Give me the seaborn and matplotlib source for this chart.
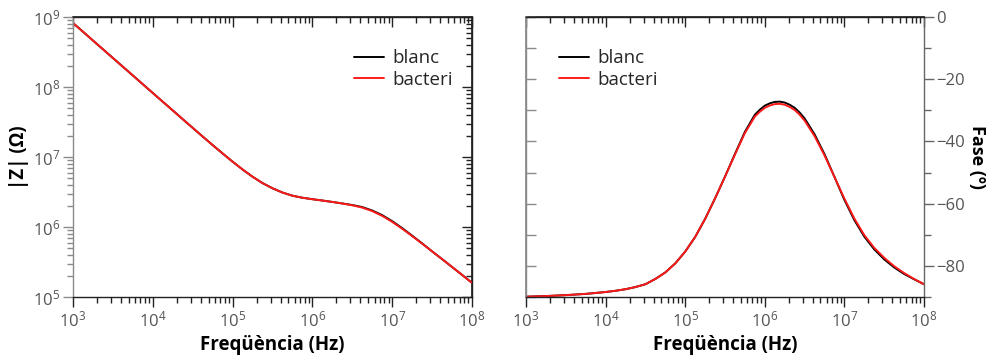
import matplotlib
matplotlib.use("Agg")
import matplotlib.pyplot as plt
import seaborn as sns
from matplotlib.ticker import LogLocator, MultipleLocator, NullFormatter

# ---------------- data ----------------
freq = [1.0e3, 1.334e3, 1.778e3, 2.371e3, 3.162e3, 4.217e3, 5.623e3, 7.499e3,
        1.0e4, 1.334e4, 1.778e4, 2.371e4, 3.162e4, 4.217e4, 5.623e4, 7.499e4,
        1.0e5, 1.334e5, 1.778e5, 2.371e5, 3.162e5, 4.217e5, 5.623e5, 7.499e5,
        1.0e6, 1.334e6, 1.778e6, 2.371e6, 3.162e6, 4.217e6, 5.623e6, 7.499e6,
        1.0e7, 1.334e7, 1.778e7, 2.371e7, 3.162e7, 4.217e7, 5.623e7, 7.499e7,
        1.0e8]

z_blanc = [8.20e8, 6.15e8, 4.613e8, 3.459e8, 2.594e8, 1.945e8, 1.459e8, 1.094e8,
           8.20e7, 6.15e7, 4.624e7, 3.467e7, 2.606e7, 1.959e7, 1.479e7, 1.122e7,
           8.570e6, 6.622e6, 5.224e6, 4.236e6, 3.573e6, 3.105e6, 2.799e6, 2.618e6,
           2.495e6, 2.388e6, 2.280e6, 2.168e6, 2.060e6, 1.925e6, 1.720e6, 1.475e6,
           1.210e6, 9.64e5, 7.52e5, 5.83e5, 4.487e5, 3.475e5, 2.685e5, 2.070e5,
           1.592e5]
z_bacteri = [8.20e8, 6.15e8, 4.613e8, 3.459e8, 2.594e8, 1.945e8, 1.459e8, 1.094e8,
             8.20e7, 6.15e7, 4.624e7, 3.467e7, 2.606e7, 1.959e7, 1.479e7, 1.122e7,
             8.570e6, 6.622e6, 5.224e6, 4.236e6, 3.573e6, 3.105e6, 2.799e6, 2.618e6,
             2.495e6, 2.388e6, 2.280e6, 2.168e6, 2.042e6, 1.892e6, 1.687e6, 1.442e6,
             1.183e6, 9.441e5, 7.413e5, 5.781e5, 4.487e5, 3.475e5, 2.685e5, 2.070e5,
             1.592e5]

freq_ph = [1.0e3, 1.334e3, 1.778e3, 2.371e3, 3.162e3, 4.217e3, 5.623e3, 7.499e3,
           1.0e4, 1.334e4, 1.778e4, 2.371e4, 3.162e4, 4.217e4, 5.623e4, 7.499e4,
           1.0e5, 1.334e5, 1.778e5, 2.371e5, 3.162e5, 4.217e5, 5.623e5, 7.499e5,
           8.660e5, 1.0e6, 1.155e6, 1.334e6, 1.540e6, 1.778e6, 2.054e6, 2.371e6,
           2.738e6, 3.162e6, 4.217e6, 5.623e6, 7.499e6,
           1.0e7, 1.334e7, 1.778e7, 2.371e7, 3.162e7, 4.217e7, 5.623e7, 7.499e7,
           1.0e8]
ph_blanc = [-89.9, -89.8, -89.7, -89.55, -89.4, -89.2, -89.0, -88.7,
            -88.4, -88.0, -87.5, -86.8, -85.9, -84.2, -82.1, -79.2,
            -75.4, -70.7, -64.9, -58.3, -51.3, -44.0, -36.9, -31.4,
            -29.8, -28.5, -27.75, -27.3, -27.2, -27.5, -28.2, -29.2,
            -30.7, -32.6, -37.7, -44.1, -51.4,
            -58.8, -65.3, -70.6, -74.7, -77.9, -80.5, -82.6, -84.3,
            -85.9]
ph_bacteri = [-89.9, -89.8, -89.7, -89.55, -89.4, -89.2, -89.0, -88.7,
              -88.4, -88.0, -87.5, -86.8, -85.9, -84.2, -82.1, -79.2,
              -75.4, -70.7, -64.9, -58.3, -51.3, -44.2, -37.3, -32.0,
              -30.45, -29.2, -28.45, -28.0, -27.9, -28.2, -28.9, -29.9,
              -31.4, -33.3, -38.3, -44.5, -51.4,
              -58.4, -64.8, -70.1, -74.2, -77.4, -80.1, -82.3, -84.2,
              -85.9]

series_names = ["blanc", "bacteri"]
series_colors = ["black", "#ff1a1a"]
x_label = "Freqüència (Hz)"
y1_label = "|Z| (Ω)"
y2_label = "Fase (º)"

# ---------------- style ----------------
sns.set_theme(style="white")
plt.rcParams["font.family"] = ["Open Sans", "DejaVu Sans"]
plt.rcParams["mathtext.default"] = "regular"
plt.rcParams["axes.unicode_minus"] = True

TICK_COL = "#555555"
DARK = "#222222"
GRAY = "#8a8a8a"
FS = 12

fig = plt.figure(figsize=(9.91, 3.58), dpi=100)
ax1 = fig.add_axes([0.0737, 0.1704, 0.4026, 0.7821])
ax2 = fig.add_axes([0.5308, 0.1704, 0.4016, 0.7821])

# ---------------- left panel: |Z| ----------------
for name, col, vals in zip(series_names, series_colors, [z_blanc, z_bacteri]):
    sns.lineplot(x=freq, y=vals, ax=ax1, color=col, lw=1.4, label=name,
                 estimator=None)
ax1.set_xscale("log")
ax1.set_yscale("log")
ax1.set_xlim(1e3, 1e8)
ax1.set_ylim(1e5, 1e9)

# ---------------- right panel: phase ----------------
for name, col, vals in zip(series_names, series_colors, [ph_blanc, ph_bacteri]):
    sns.lineplot(x=freq_ph, y=vals, ax=ax2, color=col, lw=1.4, label=name,
                 estimator=None)
ax2.set_xscale("log")
ax2.set_xlim(1e3, 1e8)
ax2.set_ylim(-90, 0)
ax2.yaxis.tick_right()
ax2.yaxis.set_label_position("right")
ax2.yaxis.set_major_locator(MultipleLocator(20))
ax2.yaxis.set_minor_locator(MultipleLocator(10))
ax2.yaxis.set_minor_formatter(NullFormatter())

for ax in (ax1, ax2):
    ax.xaxis.set_major_locator(LogLocator(base=10, numticks=12))
    ax.xaxis.set_minor_locator(LogLocator(base=10, subs=range(2, 10), numticks=12))
    ax.xaxis.set_minor_formatter(NullFormatter())
    ax.tick_params(axis="x", which="both", direction="out", bottom=True, top=False,
                   color=DARK, labelcolor=TICK_COL, labelsize=FS, pad=3)
    ax.tick_params(axis="x", which="major", length=7, width=1)
    ax.tick_params(axis="x", which="minor", length=4, width=1)
    ax.set_xlabel(x_label, fontsize=13.5, fontweight="bold", color="black", labelpad=3)
    ax.grid(False)
    for s in ("top", "bottom", "right"):
        ax.spines[s].set_color(DARK)
        ax.spines[s].set_linewidth(1.0)
    ax.spines["left"].set_color(GRAY)
    ax.spines["left"].set_linewidth(1.0)
    # mirrored top ticks, pointing inward
    sx = ax.secondary_xaxis("top")
    sx.xaxis.set_major_locator(LogLocator(base=10, numticks=12))
    sx.xaxis.set_minor_locator(LogLocator(base=10, subs=range(2, 10), numticks=12))
    sx.tick_params(axis="x", which="both", direction="in", color=DARK,
                   labeltop=False, labelbottom=False)
    sx.tick_params(axis="x", which="major", length=7, width=1)
    sx.tick_params(axis="x", which="minor", length=4, width=1)
    sx.spines["top"].set_color(DARK)

ax1.yaxis.set_major_locator(LogLocator(base=10, numticks=12))
ax1.yaxis.set_minor_locator(LogLocator(base=10, subs=range(2, 10), numticks=12))
ax1.yaxis.set_minor_formatter(NullFormatter())
ax1.tick_params(axis="y", which="both", direction="out", left=True, right=False,
                color=GRAY, labelcolor=TICK_COL, labelsize=FS, pad=2)
ax1.tick_params(axis="y", which="major", length=7, width=1)
ax1.tick_params(axis="y", which="minor", length=4, width=1)
ax1.set_ylabel(y1_label, fontsize=13.5, fontweight="bold", color="black", labelpad=3)
sy1 = ax1.secondary_yaxis("right")
sy1.yaxis.set_major_locator(LogLocator(base=10, numticks=12))
sy1.yaxis.set_minor_locator(LogLocator(base=10, subs=range(2, 10), numticks=12))
sy1.tick_params(axis="y", which="both", direction="in", color=DARK,
                labelright=False, labelleft=False)
sy1.tick_params(axis="y", which="major", length=7, width=1)
sy1.tick_params(axis="y", which="minor", length=4, width=1)
sy1.spines["right"].set_color(DARK)

ax2.spines["right"].set_color("#666666")
ax2.tick_params(axis="y", which="both", direction="out", left=False, right=True,
                color="#666666", labelcolor=TICK_COL, labelsize=FS, pad=2)
ax2.tick_params(axis="y", which="major", length=7, width=1)
ax2.tick_params(axis="y", which="minor", length=5, width=1)
ax2.set_ylabel(y2_label, fontsize=13, fontweight="bold", color="black",
               rotation=270, va="bottom", labelpad=2)
sy2 = ax2.secondary_yaxis("left")
sy2.yaxis.set_major_locator(MultipleLocator(10))
sy2.tick_params(axis="y", which="both", direction="in", color=GRAY,
                labelleft=False, labelright=False, length=7, width=1)
sy2.spines["left"].set_color(GRAY)

# ---------------- legends ----------------
leg_kw = dict(frameon=False, loc="upper left", borderpad=0, borderaxespad=0,
              handlelength=1.6, handletextpad=0.45, labelspacing=0.2, fontsize=13.5)
ax1.legend(bbox_to_anchor=(0.705, 0.885), **leg_kw)
ax2.legend(bbox_to_anchor=(0.083, 0.885), **leg_kw)

fig.savefig("out.png", dpi=100)
